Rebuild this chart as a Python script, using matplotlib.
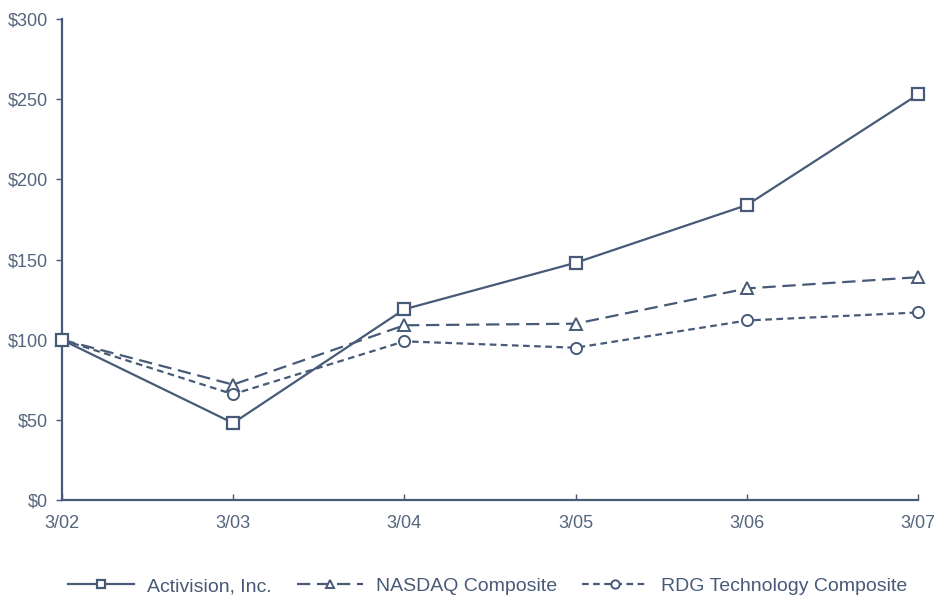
import matplotlib

matplotlib.use("Agg")
import matplotlib.pyplot as plt

plt.rcParams.update({
    "font.family": ["Liberation Sans", "DejaVu Sans"],
    "font.size": 13,
})

COLOR = "#475a77"
TEXT = "#55657d"

# cumulative total return data
periods = ["3/02", "3/03", "3/04", "3/05", "3/06", "3/07"]
activision = [100, 48, 119, 148, 184, 253]
nasdaq = [100, 72, 109, 110, 132, 139]
rdg_tech = [100, 66, 99, 95, 112, 117]
y_ticks = [0, 50, 100, 150, 200, 250, 300]
y_labels = ["$0", "$50", "$100", "$150", "$200", "$250", "$300"]

fig = plt.figure(figsize=(9.36, 5.96), dpi=100)
ax = fig.add_axes([0.066, 0.161, 0.915, 0.807])

x = range(len(periods))
style = dict(color=COLOR, lw=1.6, ms=8, mfc="white", mec=COLOR, clip_on=False)
ax.plot(x, activision, ls="-", marker="s", mew=1.6,
        label="Activision, Inc.", zorder=3, **style)
ax.plot(x, nasdaq, ls=(0, (6, 3)), marker="^", mew=1.4,
        label="NASDAQ Composite", zorder=2, **style)
ax.plot(x, rdg_tech, ls=(0, (3, 2)), marker="o", mew=1.4,
        label="RDG Technology Composite", zorder=2, **style)

ax.set_xlim(0, len(periods) - 1)
ax.set_ylim(0, 300)
ax.set_xticks(list(x))
ax.set_xticklabels(periods)
ax.set_yticks(y_ticks)
ax.set_yticklabels(y_labels)

for side in ("top", "right"):
    ax.spines[side].set_visible(False)
for side in ("left", "bottom"):
    ax.spines[side].set_color(COLOR)
    ax.spines[side].set_linewidth(1.6)
ax.tick_params(colors=COLOR, labelcolor=TEXT, length=4, width=1, labelsize=13)
ax.tick_params(axis="y", direction="out", pad=6)
ax.tick_params(axis="x", direction="in", pad=11)

fig.legend(loc="center", bbox_to_anchor=(0.521, 0.016), ncol=3, frameon=False,
           handlelength=3.4, columnspacing=1.3, handletextpad=0.65,
           markerscale=0.75, fontsize=14, labelcolor=COLOR)

fig.savefig("out.png", dpi=100)
